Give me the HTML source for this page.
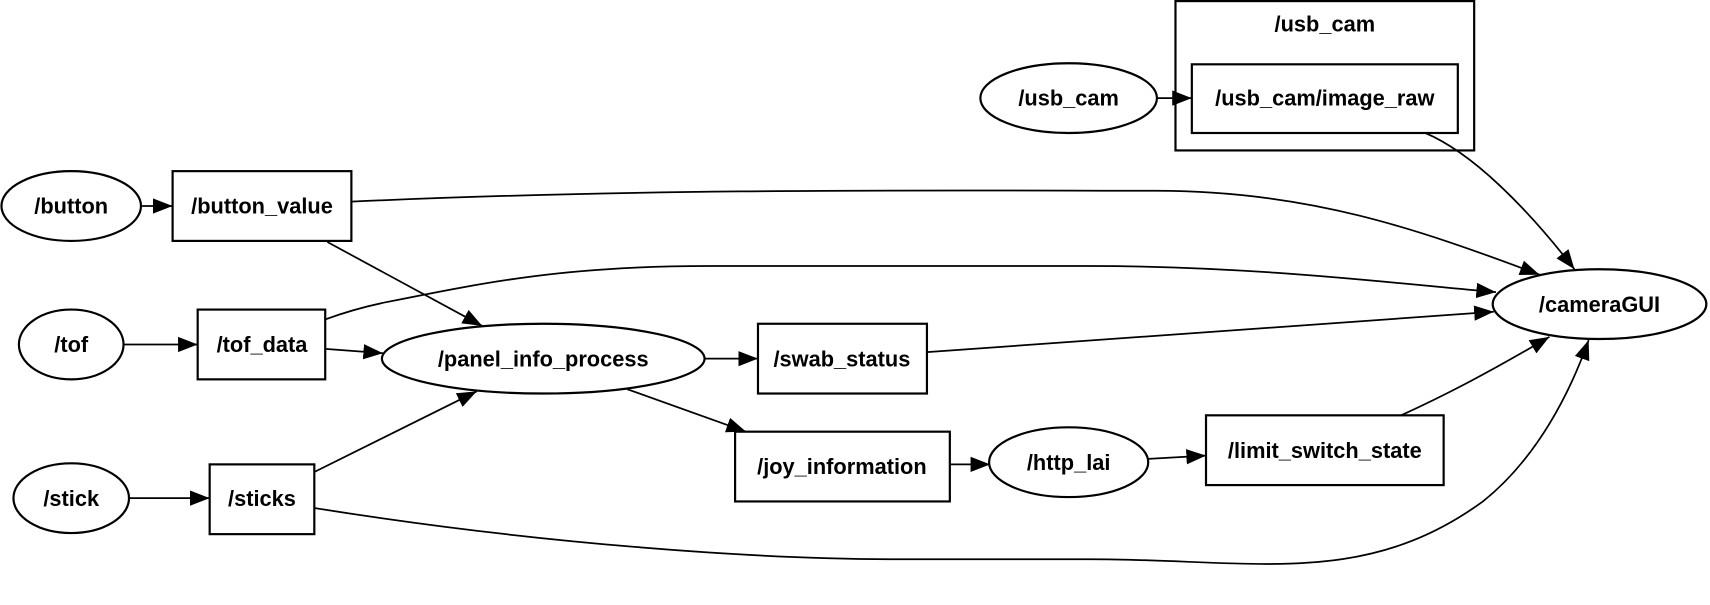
<!DOCTYPE html>
<html><head><meta charset="utf-8"><style>html,body{margin:0;padding:0;background:#fff;}svg{display:block}</style></head>
<body>
<svg width="1710" height="605" viewBox="0 0 1568 555" xmlns="http://www.w3.org/2000/svg">
<defs>
<marker id="a" markerUnits="userSpaceOnUse" markerWidth="20" markerHeight="14" refX="18" refY="7" orient="auto">
<path d="M0,0 L18,7 L0,14 Z" fill="#000"/>
</marker>
</defs>
<g fill="none" stroke="#000" stroke-width="2">
<rect x="1078" y="1" width="274" height="137"/>
<ellipse cx="980" cy="90" rx="81" ry="32"/>
<rect x="1093" y="59" width="244" height="63"/>
<ellipse cx="65" cy="189" rx="64" ry="32"/>
<rect x="158" y="157" width="164" height="64"/>
<ellipse cx="65" cy="316" rx="48" ry="32"/>
<rect x="181" y="284" width="117" height="64"/>
<ellipse cx="65" cy="457" rx="53" ry="32"/>
<rect x="192" y="426" width="96" height="64"/>
<ellipse cx="498" cy="329" rx="148" ry="32"/>
<rect x="695" y="297" width="155" height="64"/>
<rect x="674" y="396" width="197" height="64"/>
<ellipse cx="980" cy="424" rx="73" ry="32"/>
<rect x="1106" y="381" width="218" height="64"/>
<ellipse cx="1467" cy="279" rx="98" ry="32"/>
</g>
<g fill="none" stroke="#000" stroke-width="1.6" marker-end="url(#a)">
<path d="M130,189 L158,189"/>
<path d="M322,185 C600,172 900,175 1060,175 C1200,175 1300,210 1412,252"/>
<path d="M298,293 C320,285 340,280 355,277 C450,258 520,244 650,244 L1000,244 C1150,244 1280,260 1372,268"/>
<path d="M850,323 L1370,286"/>
<path d="M1307,122 C1350,140 1400,190 1444,247"/>
<path d="M1285,381 C1320,365 1360,345 1421,309"/>
<path d="M288,466 C500,500 700,513 820,513 L1000,513 C1150,513 1250,540 1360,460 C1410,420 1440,360 1457,312"/>
<path d="M300,222 L442,299"/>
<path d="M113,316 L181,316"/>
<path d="M298,320 L351,324"/>
<path d="M118,457 L192,457"/>
<path d="M288,433 L437,359"/>
<path d="M646,329 L695,329"/>
<path d="M575,357 L684,396"/>
<path d="M871,426 L908,426"/>
<path d="M1053,421 L1106,418"/>
<path d="M1061,90 L1093,90"/>
</g>
<g font-family="Liberation Sans, sans-serif" font-weight="bold" font-size="20" text-anchor="middle" fill="#000">
<text x="1215" y="29">/usb_cam</text>
<text x="980" y="97">/usb_cam</text>
<text x="1215" y="97">/usb_cam/image_raw</text>
<text x="65" y="196">/button</text>
<text x="240" y="196">/button_value</text>
<text x="65" y="323">/tof</text>
<text x="240" y="323">/tof_data</text>
<text x="65" y="464">/stick</text>
<text x="240" y="464">/sticks</text>
<text x="498" y="336">/panel_info_process</text>
<text x="772" y="336">/swab_status</text>
<text x="772" y="435">/joy_information</text>
<text x="980" y="431">/http_lai</text>
<text x="1215" y="420">/limit_switch_state</text>
<text x="1467" y="286">/cameraGUI</text>
</g>
</svg>
</body></html>
